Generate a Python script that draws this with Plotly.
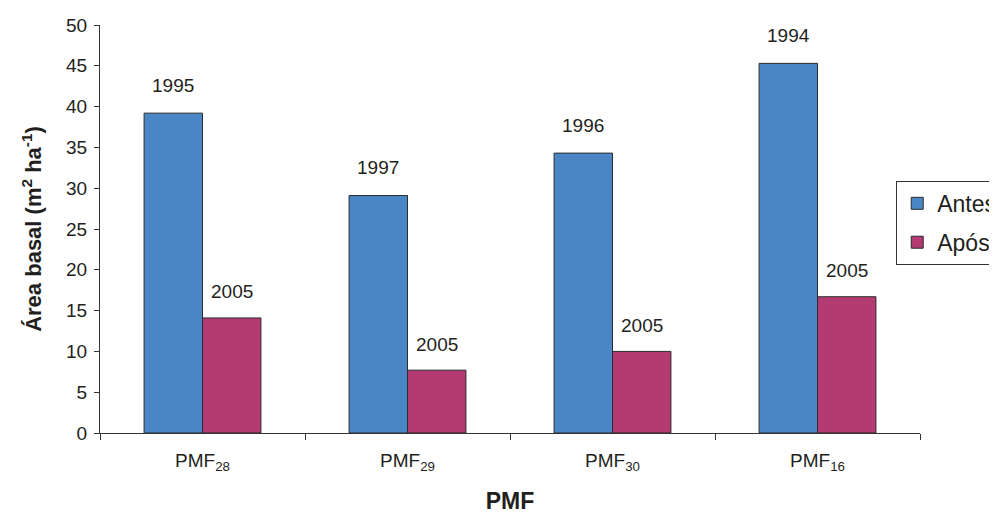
import plotly.graph_objects as go

categories = ["PMF<sub>28</sub>", "PMF<sub>29</sub>", "PMF<sub>30</sub>", "PMF<sub>16</sub>"]
antes = [39.2, 29.1, 34.3, 45.3]
apos = [14.1, 7.7, 10.0, 16.7]
antes_years = ["1995", "1997", "1996", "1994"]
apos_years = ["2005", "2005", "2005", "2005"]
yticks = [0, 5, 10, 15, 20, 25, 30, 35, 40, 45, 50]

FONT = "Liberation Sans, Arial, sans-serif"
bargap = 0.43
half = (1 - bargap) / 4

fig = go.Figure()
fig.add_trace(go.Bar(name="Antes", x=categories, y=antes, legendgroup="a",
                     marker=dict(color="#4a86c5", line=dict(color="#2b2b2b", width=1))))
fig.add_trace(go.Bar(name="Após", x=categories, y=apos, legendgroup="b",
                     marker=dict(color="#b43a72", line=dict(color="#2b2b2b", width=1))))

for i, (v, t) in enumerate(zip(antes, antes_years)):
    fig.add_annotation(x=i - half, y=v, text=t, showarrow=False, yshift=28,
                       font=dict(size=19, color="#231f20", family=FONT))
for i, (v, t) in enumerate(zip(apos, apos_years)):
    fig.add_annotation(x=i + half, y=v, text=t, showarrow=False, yshift=26,
                       font=dict(size=19, color="#231f20", family=FONT))

fig.update_layout(
    width=997, height=513,
    margin=dict(l=92, r=85, t=17, b=88, autoexpand=False),
    paper_bgcolor="white", plot_bgcolor="white",
    barmode="group", bargap=bargap, bargroupgap=0,
    font=dict(family=FONT, color="#231f20", size=19),
    showlegend=True,
    legend=dict(x=0.971, y=0.618, xanchor="left", yanchor="top",
                bordercolor="#333333", borderwidth=1, bgcolor="white",
                font=dict(size=23, family=FONT), tracegroupgap=6,
                itemwidth=30, traceorder="grouped"),
    xaxis=dict(showline=True, linecolor="#333333", linewidth=1,
               ticks="outside", ticklen=6, tickcolor="#333333", tickson="boundaries",
               tickfont=dict(size=19), showgrid=False, ticklabelstandoff=10,
               title=dict(text="<b>PMF</b>", font=dict(size=23), standoff=20)),
    yaxis=dict(range=[0, 50], tickvals=yticks, showline=True, linecolor="#333333",
               linewidth=1, ticks="outside", ticklen=5, tickcolor="#333333",
               tickfont=dict(size=19), showgrid=False, zeroline=False, ticklabelstandoff=3,
               title=dict(text="<b>Área basal (m<sup>2</sup> ha<sup>-1</sup>)</b>",
                          font=dict(size=22), standoff=18)),
)

fig.write_html("out.html")
